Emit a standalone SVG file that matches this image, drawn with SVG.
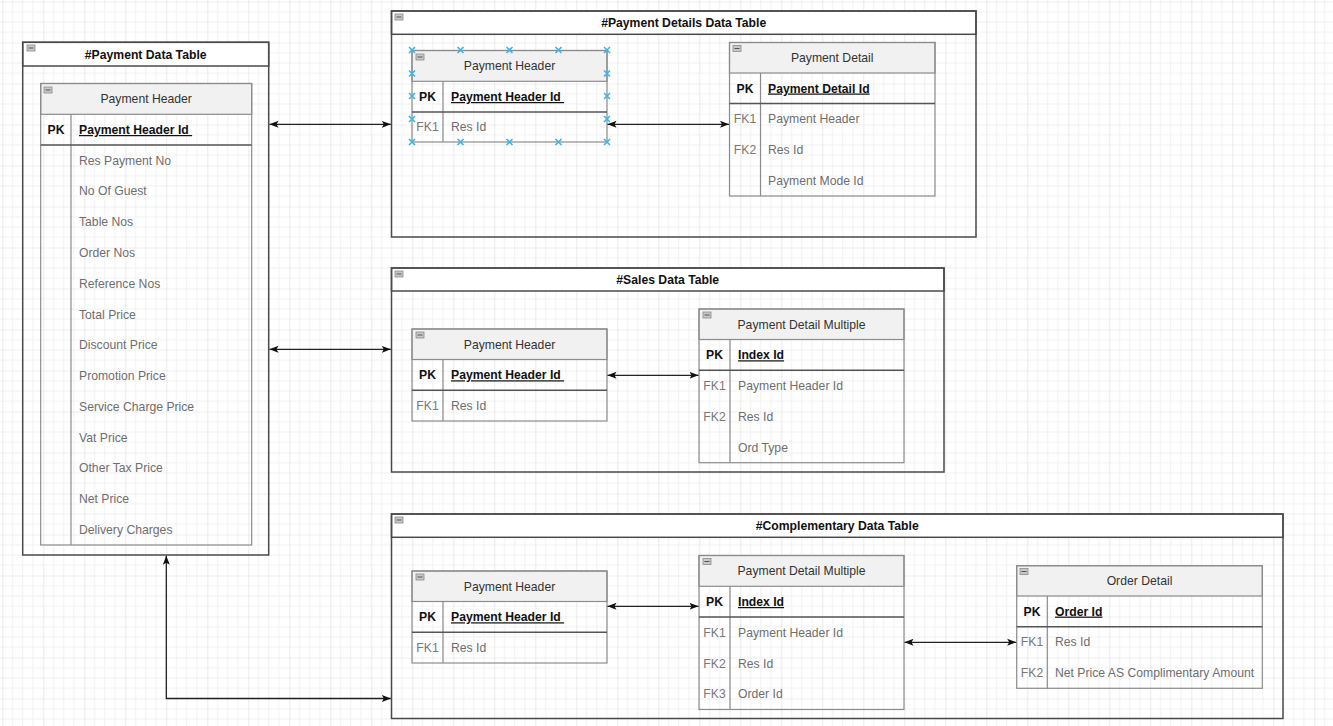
<svg xmlns="http://www.w3.org/2000/svg" xmlns:xlink="http://www.w3.org/1999/xlink" width="1333" height="726" viewBox="0 0 1333 726">
<defs>
<pattern id="grid" patternUnits="userSpaceOnUse" x="2.3" y="1.5" width="41" height="41">
<path d="M10.25 0V41M20.5 0V41M30.75 0V41M0 10.25H41M0 20.5H41M0 30.75H41" stroke="#f1f1f1" stroke-width="1" fill="none"/>
<path d="M0 0V41M0 0H41" stroke="#dddddd" stroke-width="1.2" fill="none"/>
</pattern>
<marker id="arr" markerUnits="userSpaceOnUse" markerWidth="10" markerHeight="8" refX="9" refY="4" orient="auto-start-reverse">
<path d="M0,0.5 L9,4 L0,7.5 L2,4 z" fill="#111"/>
</marker>
<g id="minus"><rect x="0" y="0" width="8" height="6" fill="#c8c8c8" stroke="#8a8a8a" stroke-width="0.8"/><path d="M1.5 3H6.5" stroke="#555" stroke-width="1"/></g>
<path id="sel" d="M-3 -3L3 3M-3 3L3 -3" stroke="#3db3ea" stroke-width="1.6" fill="none"/>
</defs>
<style>
.cont{fill:none;stroke:#4a4a4a;stroke-width:1.5}
.chead{fill:#fff;stroke:#4a4a4a;stroke-width:1.5}
.tbl{fill:none;stroke:#8c8c8c;stroke-width:1.2}
.thead{fill:#f1f1f1;stroke:#8c8c8c;stroke-width:1.2}
.pkl{stroke:#555;stroke-width:1.6}
.div{stroke:#8c8c8c;stroke-width:1.2}
text{font-family:"Liberation Sans",Arial,Helvetica,sans-serif;font-size:12.2px}
.title{font-weight:bold;fill:#111;text-anchor:middle}
.th{fill:#333;text-anchor:middle}
.pk{font-weight:bold;fill:#111;text-anchor:middle}
.pkf{font-weight:bold;fill:#111;text-decoration:underline}
.fk{fill:#777;text-anchor:middle}
.f{fill:#6e6e6e}
.edge{fill:none;stroke:#222;stroke-width:1.3;marker-start:url(#arr);marker-end:url(#arr)}
</style>
<rect width="1333" height="726" fill="#fff"/>
<rect width="1333" height="726" fill="url(#grid)"/>

<g id="c-payment-data-table">
<rect class="chead" x="22.7" y="42.3" width="246" height="23.7"/>
<rect class="cont" x="22.7" y="42.3" width="246" height="512.7"/>
<use xlink:href="#minus" x="27" y="45"/>
<text class="title" x="145.7" y="58.5">#Payment Data Table</text>
<g id="t1-payment-header">
<rect class="thead" x="40.7" y="83.5" width="211" height="30.8"/>
<rect class="tbl" x="40.7" y="83.5" width="211" height="461.5"/>
<use xlink:href="#minus" x="44" y="87"/>
<line class="div" x1="71" y1="114.3" x2="71" y2="545"/>
<line class="pkl" x1="40.7" y1="145" x2="251.7" y2="145"/>
<text class="th" x="146.2" y="103.2">Payment Header</text>
<text class="pk" x="56" y="134">PK</text>
<text class="pkf" x="79" y="134" xml:space="preserve">Payment Header Id </text>
<text class="f" x="79" y="164.6">Res Payment No</text>
<text class="f" x="79" y="195.4">No Of Guest</text>
<text class="f" x="79" y="226.2">Table Nos</text>
<text class="f" x="79" y="256.9">Order Nos</text>
<text class="f" x="79" y="287.7">Reference Nos</text>
<text class="f" x="79" y="318.5">Total Price</text>
<text class="f" x="79" y="349.3">Discount Price</text>
<text class="f" x="79" y="380.1">Promotion Price</text>
<text class="f" x="79" y="410.8">Service Charge Price</text>
<text class="f" x="79" y="441.6">Vat Price</text>
<text class="f" x="79" y="472.4">Other Tax Price</text>
<text class="f" x="79" y="503.2">Net Price</text>
<text class="f" x="79" y="534">Delivery Charges</text>
</g>
</g>

<g id="c-payment-details-data-table">
<rect class="chead" x="391.5" y="11" width="584.5" height="23.3"/>
<rect class="cont" x="391.5" y="11" width="584.5" height="226"/>
<use xlink:href="#minus" x="395" y="14"/>
<text class="title" x="683.7" y="27">#Payment Details Data Table</text>
<g id="t2-payment-header">
<rect class="thead" x="412" y="50.5" width="195" height="30.8"/>
<rect class="tbl" x="412" y="50.5" width="195" height="91.5"/>
<use xlink:href="#minus" x="416" y="54"/>
<line class="div" x1="443" y1="81.3" x2="443" y2="142"/>
<line class="pkl" x1="412" y1="112" x2="607" y2="112"/>
<text class="th" x="509.5" y="70.3">Payment Header</text>
<text class="pk" x="427.5" y="101">PK</text>
<text class="pkf" x="451" y="101" xml:space="preserve">Payment Header Id </text>
<text class="fk" x="427.5" y="131.4">FK1</text>
<text class="f" x="451" y="131.4">Res Id</text>
<g id="selection-handles">
<use xlink:href="#sel" x="412" y="50"/><use xlink:href="#sel" x="460.5" y="50"/><use xlink:href="#sel" x="509.5" y="50"/><use xlink:href="#sel" x="558.5" y="50"/><use xlink:href="#sel" x="607" y="50"/>
<use xlink:href="#sel" x="412" y="142"/><use xlink:href="#sel" x="460.5" y="142"/><use xlink:href="#sel" x="509.5" y="142"/><use xlink:href="#sel" x="558.5" y="142"/><use xlink:href="#sel" x="607" y="142"/>
<use xlink:href="#sel" x="412" y="73.5"/><use xlink:href="#sel" x="412" y="96"/><use xlink:href="#sel" x="412" y="119"/>
<use xlink:href="#sel" x="607" y="73.5"/><use xlink:href="#sel" x="607" y="96"/><use xlink:href="#sel" x="607" y="119"/>
</g>
</g>
<g id="t3-payment-detail">
<rect class="thead" x="729.5" y="42.5" width="205.5" height="30.5"/>
<rect class="tbl" x="729.5" y="42.5" width="205.5" height="153.5"/>
<use xlink:href="#minus" x="733" y="45.5"/>
<line class="div" x1="760.5" y1="73" x2="760.5" y2="196"/>
<line class="pkl" x1="729.5" y1="103.5" x2="935" y2="103.5"/>
<text class="th" x="832.2" y="62">Payment Detail</text>
<text class="pk" x="745" y="92.5">PK</text>
<text class="pkf" x="768" y="92.5">Payment Detail Id</text>
<text class="fk" x="745" y="123.3">FK1</text>
<text class="f" x="768" y="123.3">Payment Header</text>
<text class="fk" x="745" y="154.2">FK2</text>
<text class="f" x="768" y="154.2">Res Id</text>
<text class="f" x="768" y="185">Payment Mode Id</text>
</g>
</g>

<g id="c-sales-data-table">
<rect class="chead" x="391.5" y="268" width="552.5" height="23"/>
<rect class="cont" x="391.5" y="268" width="552.5" height="204"/>
<use xlink:href="#minus" x="395" y="271"/>
<text class="title" x="667.7" y="284">#Sales Data Table</text>
<g id="t4-payment-header">
<rect class="thead" x="412" y="329" width="195" height="30.5"/>
<rect class="tbl" x="412" y="329" width="195" height="92"/>
<use xlink:href="#minus" x="416" y="332"/>
<line class="div" x1="443" y1="359.5" x2="443" y2="421"/>
<line class="pkl" x1="412" y1="390.3" x2="607" y2="390.3"/>
<text class="th" x="509.5" y="348.5">Payment Header</text>
<text class="pk" x="427.5" y="379.3">PK</text>
<text class="pkf" x="451" y="379.3" xml:space="preserve">Payment Header Id </text>
<text class="fk" x="427.5" y="410">FK1</text>
<text class="f" x="451" y="410">Res Id</text>
</g>
<g id="t5-payment-detail-multiple">
<rect class="thead" x="699" y="309" width="205" height="30.5"/>
<rect class="tbl" x="699" y="309" width="205" height="153.7"/>
<use xlink:href="#minus" x="703" y="312"/>
<line class="div" x1="730" y1="339.5" x2="730" y2="462.7"/>
<line class="pkl" x1="699" y1="370.3" x2="904" y2="370.3"/>
<text class="th" x="801.5" y="328.5">Payment Detail Multiple</text>
<text class="pk" x="714.5" y="359.3">PK</text>
<text class="pkf" x="738" y="359.3">Index Id</text>
<text class="fk" x="714.5" y="390.2">FK1</text>
<text class="f" x="738" y="390.2">Payment Header Id</text>
<text class="fk" x="714.5" y="421">FK2</text>
<text class="f" x="738" y="421">Res Id</text>
<text class="f" x="738" y="451.8">Ord Type</text>
</g>
</g>

<g id="c-complementary-data-table">
<rect class="chead" x="391.5" y="514" width="891.5" height="23.3"/>
<rect class="cont" x="391.5" y="514" width="891.5" height="204.5"/>
<use xlink:href="#minus" x="395" y="517"/>
<text class="title" x="837.2" y="530.2">#Complementary Data Table</text>
<g id="t6-payment-header">
<rect class="thead" x="412" y="571" width="195" height="30.5"/>
<rect class="tbl" x="412" y="571" width="195" height="92"/>
<use xlink:href="#minus" x="416" y="574"/>
<line class="div" x1="443" y1="601.5" x2="443" y2="663"/>
<line class="pkl" x1="412" y1="632.3" x2="607" y2="632.3"/>
<text class="th" x="509.5" y="590.5">Payment Header</text>
<text class="pk" x="427.5" y="621.3">PK</text>
<text class="pkf" x="451" y="621.3" xml:space="preserve">Payment Header Id </text>
<text class="fk" x="427.5" y="652">FK1</text>
<text class="f" x="451" y="652">Res Id</text>
</g>
<g id="t7-payment-detail-multiple">
<rect class="thead" x="699" y="555.5" width="205" height="30.8"/>
<rect class="tbl" x="699" y="555.5" width="205" height="154"/>
<use xlink:href="#minus" x="703" y="558.5"/>
<line class="div" x1="730" y1="586.3" x2="730" y2="709.5"/>
<line class="pkl" x1="699" y1="617" x2="904" y2="617"/>
<text class="th" x="801.5" y="575.2">Payment Detail Multiple</text>
<text class="pk" x="714.5" y="606">PK</text>
<text class="pkf" x="738" y="606">Index Id</text>
<text class="fk" x="714.5" y="636.7">FK1</text>
<text class="f" x="738" y="636.7">Payment Header Id</text>
<text class="fk" x="714.5" y="667.5">FK2</text>
<text class="f" x="738" y="667.5">Res Id</text>
<text class="fk" x="714.5" y="698.3">FK3</text>
<text class="f" x="738" y="698.3">Order Id</text>
</g>
<g id="t8-order-detail">
<rect class="thead" x="1016.7" y="565.7" width="245.6" height="30.3"/>
<rect class="tbl" x="1016.7" y="565.7" width="245.6" height="122.6"/>
<use xlink:href="#minus" x="1020" y="568.5"/>
<line class="div" x1="1047.3" y1="596" x2="1047.3" y2="688.3"/>
<line class="pkl" x1="1016.7" y1="626.7" x2="1262.3" y2="626.7"/>
<text class="th" x="1139.5" y="585.2">Order Detail</text>
<text class="pk" x="1032" y="615.6">PK</text>
<text class="pkf" x="1055" y="615.6">Order Id</text>
<text class="fk" x="1032" y="646.4">FK1</text>
<text class="f" x="1055" y="646.4">Res Id</text>
<text class="fk" x="1032" y="677.2">FK2</text>
<text class="f" x="1055" y="677.2">Net Price AS Complimentary Amount</text>
</g>
</g>

<g id="connectors">
<path class="edge" d="M269.5 124.3H390.8"/>
<path class="edge" d="M607.5 124.3H729"/>
<path class="edge" d="M269.5 349.3H390.8"/>
<path class="edge" d="M607.5 375.3H698.5"/>
<path class="edge" d="M607.5 606.3H698.5"/>
<path class="edge" d="M904.5 642.3H1016.2"/>
<path class="edge" d="M166.3 555.8V698.5H390.8"/>
</g>
</svg>
